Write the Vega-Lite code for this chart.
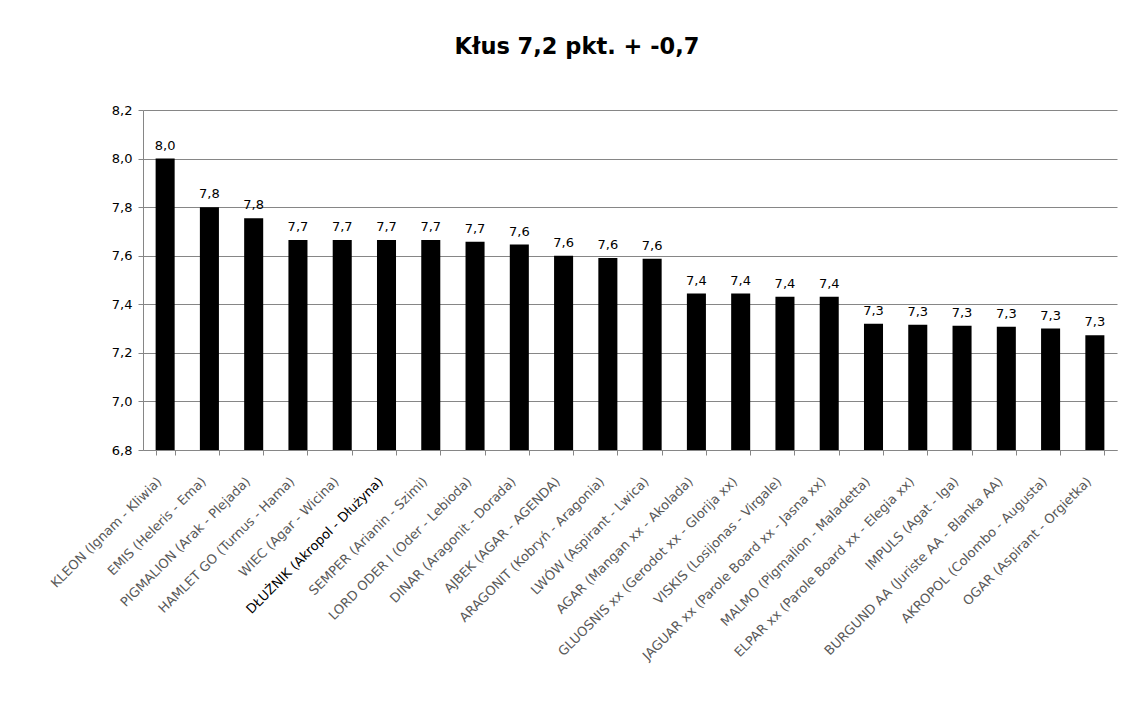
{
  "$schema": "https://vega.github.io/schema/vega-lite/v6.json",
  "autosize": {"type": "none"},
  "width": 974,
  "height": 340,
  "padding": {"left": 143, "top": 110, "right": 18, "bottom": 257},
  "background": "white",
  "config": {
    "locale": {"number": {"decimal": ",", "thousands": " ", "grouping": [3], "currency": ["", " zł"]}},
    "view": {"stroke": null},
    "font": "Liberation Sans"
  },
  "title": {
    "text": "Kłus  7,2 pkt. + -0,7",
    "font": "DejaVu Sans",
    "fontSize": 22.5,
    "fontWeight": "bold",
    "color": "#000000",
    "anchor": "middle",
    "dx": -53,
    "offset": 46
  },
  "data": {
    "values": [
      {"horse": "KLEON (Ignam - Kliwia)", "score": 8.0},
      {"horse": "EMIS (Heleris - Ema)", "score": 7.8},
      {"horse": "PIGMALION (Arak - Plejada)", "score": 7.754},
      {"horse": "HAMLET GO (Turnus - Hama)", "score": 7.665},
      {"horse": "WIEC (Agar - Wicina)", "score": 7.665},
      {"horse": "DŁUŻNIK (Akropol - Dłużyna)", "score": 7.665},
      {"horse": "SEMPER (Arianin - Szimi)", "score": 7.665},
      {"horse": "LORD ODER I (Oder - Lebioda)", "score": 7.658},
      {"horse": "DINAR (Aragonit - Dorada)", "score": 7.646},
      {"horse": "AJBEK (AGAR - AGENDA)", "score": 7.6},
      {"horse": "ARAGONIT (Kobryń - Aragonia)", "score": 7.591},
      {"horse": "LWÓW (Aspirant - Lwica)", "score": 7.587},
      {"horse": "AGAR (Mangan xx - Akolada)", "score": 7.444},
      {"horse": "GLUOSNIS xx (Gerodot xx - Glorija xx)", "score": 7.444},
      {"horse": "VISKIS (Losijonas - Virgale)", "score": 7.431},
      {"horse": "JAGUAR xx (Parole Board xx - Jasna xx)", "score": 7.431},
      {"horse": "MALMO (Pigmalion - Maladetta)", "score": 7.32},
      {"horse": "ELPAR xx (Parole Board xx - Elegia xx)", "score": 7.316},
      {"horse": "IMPULS (Agat - Iga)", "score": 7.312},
      {"horse": "BURGUND AA (Juriste AA - Blanka AA)", "score": 7.308},
      {"horse": "AKROPOL (Colombo - Augusta)", "score": 7.3},
      {"horse": "OGAR (Aspirant - Orgietka)", "score": 7.273}
    ]
  },
  "encoding": {
    "x": {
      "field": "horse",
      "type": "nominal",
      "sort": null,
      "title": null,
      "scale": {"paddingInner": 0.57, "paddingOuter": 0.285},
      "axis": {
        "labelAngle": -45,
        "labelAlign": "right",
        "labelBaseline": "middle",
        "labelFont": "DejaVu Sans",
        "labelFontSize": 13,
        "labelColor": {"expr": "datum.value === 'DŁUŻNIK (Akropol - Dłużyna)' ? '#000000' : '#595959'"},
        "labelPadding": 24,
        "labelOffset": -6,
        "tickBand": "extent",
        "tickSize": 5,
        "tickColor": "#868686",
        "domainColor": "#868686",
        "grid": false,
        "labelLimit": 500,
        "labelOverlap": false
      }
    },
    "y": {
      "field": "score",
      "type": "quantitative",
      "title": null,
      "scale": {"domain": [6.8, 8.2], "nice": false, "zero": false},
      "axis": {
        "values": [6.8, 7.0, 7.2, 7.4, 7.6, 7.8, 8.0, 8.2],
        "format": ".1f",
        "labelFont": "DejaVu Sans",
        "labelFontSize": 13,
        "labelColor": "#000000",
        "labelPadding": 6,
        "tickSize": 5,
        "tickColor": "#868686",
        "domainColor": "#868686",
        "gridColor": "#868686",
        "gridWidth": 1
      }
    }
  },
  "layer": [
    {"mark": {"type": "bar", "color": "#000000", "clip": true}},
    {
      "mark": {"type": "text", "baseline": "bottom", "dy": -6, "fontSize": 13, "font": "DejaVu Sans", "color": "#000000"},
      "encoding": {"text": {"field": "score", "type": "quantitative", "format": ".1f"}}
    }
  ]
}
